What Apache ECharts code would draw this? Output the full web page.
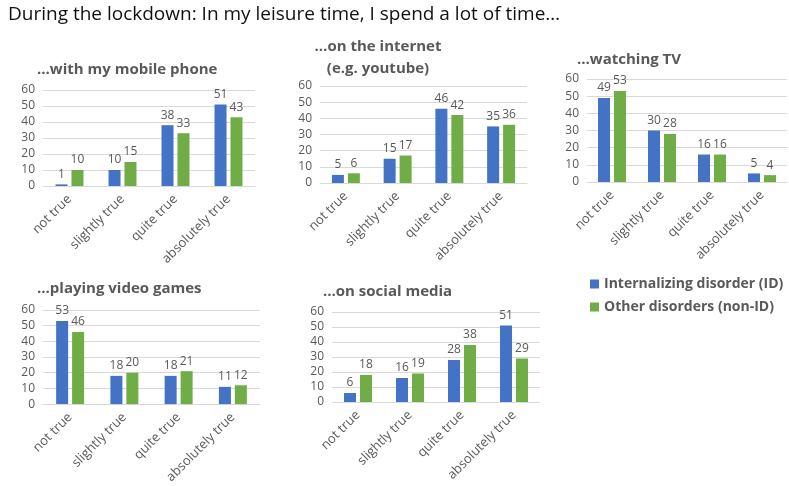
<!DOCTYPE html>
<html><head><meta charset="utf-8">
<script src="https://cdn.jsdelivr.net/npm/echarts@6/dist/echarts.min.js"></script>
<style>html,body{margin:0;padding:0;background:#fff}#c{width:789px;height:486px}</style>
</head><body><div id="c"></div>
<script>
const categories = ['not true','slightly true','quite true','absolutely true'];
const seriesNames = ['Internalizing disorder (ID)','Other disorders (non-ID)'];
const phoneID = [1,10,38,51], phoneNon = [10,15,33,43];
const internetID = [5,15,46,35], internetNon = [6,17,42,36];
const tvID = [49,30,16,5], tvNon = [53,28,16,4];
const gamesID = [53,18,18,11], gamesNon = [46,20,21,12];
const socialID = [6,16,28,51], socialNon = [18,19,38,29];
const yTicks = {min:0, max:60, interval:10};
const mainTitle = 'During the lockdown: In my leisure time, I spend a lot of time…';
const panelTitles = ['…with my mobile phone','…on the internet\n(e.g. youtube)','…watching TV','…playing video games','…on social media'];

const FONT = '"Open Sans", "Noto Sans", sans-serif';
const GREY = '#595959';
const panels = [
  {grid:{left:43,top:90,width:212,height:96}, data:[phoneID,phoneNon], title:{left:32,top:54}},
  {grid:{left:320,top:86,width:207,height:97}, data:[internetID,internetNon], title:{left:373,top:31,textAlign:'center'}},
  {grid:{left:587,top:79,width:200,height:103}, data:[tvID,tvNon], title:{left:572,top:44}},
  {grid:{left:43,top:310,width:217,height:95}, data:[gamesID,gamesNon], title:{left:32,top:273}},
  {grid:{left:332,top:312,width:208,height:90}, data:[socialID,socialNon], title:{left:318,top:276}}
];
const colors = ['#4472C4','#70AD47'];
const option = {
  animation:false,
  textStyle:{fontFamily:FONT},
  title:[{text:mainTitle,left:3,top:0,textStyle:{fontSize:19,fontWeight:'normal',color:'#111',fontFamily:FONT}}]
    .concat(panels.map((p,i)=>Object.assign({text:panelTitles[i],textStyle:{fontSize:15,fontWeight:'bold',color:GREY,fontFamily:FONT,lineHeight:22}},p.title))),
  legend:{orient:'vertical',left:585,top:272,itemWidth:9,itemHeight:9,itemGap:9,icon:'rect',
    data:seriesNames,textStyle:{fontSize:14,fontWeight:'bold',color:GREY,fontFamily:FONT}},
  grid:panels.map(p=>p.grid),
  xAxis:panels.map((p,i)=>({type:'category',gridIndex:i,data:categories,
    axisLine:{lineStyle:{color:'#D9D9D9'}},axisTick:{show:false},
    axisLabel:{rotate:45,interval:0,fontSize:13,color:GREY,margin:11,fontFamily:FONT}})),
  yAxis:panels.map((p,i)=>({type:'value',gridIndex:i,min:yTicks.min,max:yTicks.max,interval:yTicks.interval,
    axisLine:{show:false},axisTick:{show:false},
    splitLine:{lineStyle:{color:'#D9D9D9'}},
    axisLabel:{fontSize:12,color:GREY,margin:8,fontFamily:FONT}})),
  series:[]
};
panels.forEach((p,i)=>{
  p.data.forEach((d,j)=>{
    option.series.push({type:'bar',name:seriesNames[j],xAxisIndex:i,yAxisIndex:i,data:d,
      barWidth:12,barGap:'33%',itemStyle:{color:colors[j]},
      label:{show:true,position:'top',fontSize:12,color:GREY,distance:4,fontFamily:FONT}});
  });
});
const chart = echarts.init(document.getElementById('c'),null,{renderer:'canvas'});
chart.setOption(option);
</script></body></html>
